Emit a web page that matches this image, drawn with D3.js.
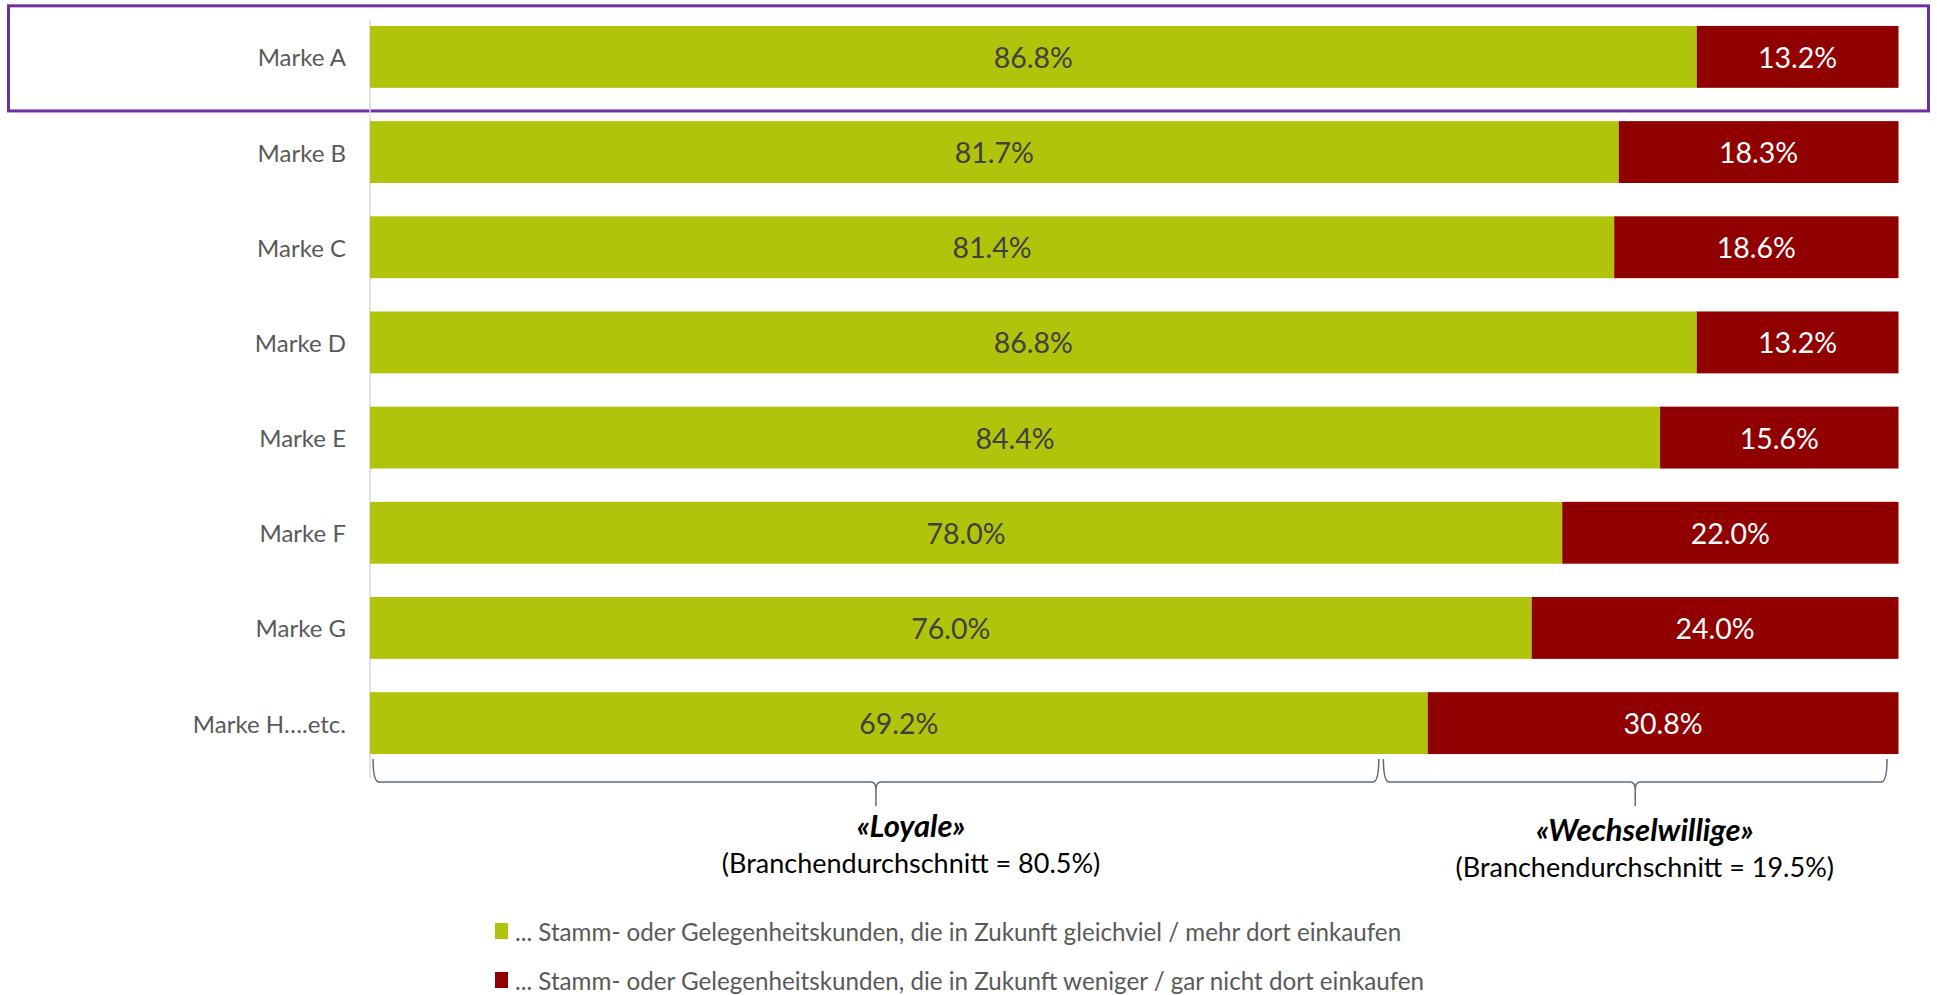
<!DOCTYPE html>
<html><head><meta charset="utf-8">
<script src="https://cdn.jsdelivr.net/npm/d3@7"></script>
<style>
html,body{margin:0;padding:0;background:#fff;}
svg{display:block;font-family:Lato, "Noto Sans", sans-serif;}
</style></head>
<body><svg id="c" width="1937" height="995"></svg>
<script>
const categories = ["Marke A","Marke B","Marke C","Marke D","Marke E","Marke F","Marke G","Marke H….etc."];
const loyal = [86.8, 81.7, 81.4, 86.8, 84.4, 78.0, 76.0, 69.2];
const switchers = [13.2, 18.3, 18.6, 13.2, 15.6, 22.0, 24.0, 30.8];
const groupTitles = ["«Loyale»", "«Wechselwillige»"];
const groupSubs = ["(Branchendurchschnitt = 80.5%)", "(Branchendurchschnitt = 19.5%)"];
const braceSpans = [[0.2, 66.0], [66.3, 99.25]];
const groupLabelPos = [35.4, 83.4];
const legendLabels = ["... Stamm- oder Gelegenheitskunden, die in Zukunft gleichviel / mehr dort einkaufen",
                      "... Stamm- oder Gelegenheitskunden, die in Zukunft weniger / gar nicht dort einkaufen"];
const highlighted = "Marke A";

const GREEN = "#b0c40b", RED = "#900000";
const svg = d3.select("#c");
const x = d3.scaleLinear().domain([0,100]).range([370, 1898.5]);
const y = d3.scaleBand().domain(categories).range([9.3, 770.7]).paddingInner(0.35).paddingOuter(0.175);

// highlight box
svg.append("rect").attr("x", 8.5).attr("y", y(highlighted) - 0.18*y.step() - 3)
  .attr("width", 1920).attr("height", y.bandwidth() + 0.36*y.step() + 9)
  .attr("fill","none").attr("stroke","#7030a0").attr("stroke-width",3);

// axis line
svg.append("line").attr("x1", x(0)).attr("x2", x(0)).attr("y1", 20).attr("y2", 778)
  .attr("stroke","#d9d9d9").attr("stroke-width",1.5);

const rows = svg.append("g").selectAll("g").data(categories).join("g");
rows.append("rect").attr("x", x(0)).attr("y", d => y(d))
  .attr("width", (d,i) => x(loyal[i]) - x(0)).attr("height", y.bandwidth()).attr("fill", GREEN);
rows.append("rect").attr("x", (d,i) => x(loyal[i])).attr("y", d => y(d))
  .attr("width", (d,i) => x(loyal[i] + switchers[i]) - x(loyal[i])).attr("height", y.bandwidth()).attr("fill", RED);
rows.append("text").attr("x", (d,i) => x(loyal[i]/2)).attr("y", d => y(d) + y.bandwidth()/2)
  .attr("text-anchor","middle").attr("dominant-baseline","central")
  .attr("font-size", 28.5).attr("fill","#404040").text((d,i) => loyal[i].toFixed(1) + "%");
rows.append("text").attr("x", (d,i) => x(loyal[i] + switchers[i]/2)).attr("y", d => y(d) + y.bandwidth()/2)
  .attr("text-anchor","middle").attr("dominant-baseline","central")
  .attr("font-size", 28.5).attr("fill","#ffffff").text((d,i) => switchers[i].toFixed(1) + "%");
rows.append("text").attr("x", 346).attr("y", d => y(d) + y.bandwidth()/2)
  .attr("text-anchor","end").attr("dominant-baseline","central")
  .attr("font-size", 24).attr("fill","#595959").text(d => d);

// braces
const yTop = 759, yMid = 782, yTip = 806;
braceSpans.forEach((s, i) => {
  const x0 = x(s[0]), x1 = x(s[1]), xc = (x0 + x1) / 2, r = 6;
  const p = d3.path();
  p.moveTo(x0, yTop);
  p.quadraticCurveTo(x0, yMid, x0 + r, yMid);
  p.lineTo(xc - 5, yMid);
  p.quadraticCurveTo(xc, yMid, xc, yMid + 8);
  p.lineTo(xc, yTip);
  p.moveTo(xc, yMid + 8);
  p.quadraticCurveTo(xc, yMid, xc + 5, yMid);
  p.lineTo(x1 - r, yMid);
  p.quadraticCurveTo(x1, yMid, x1, yTop);
  svg.append("path").attr("d", p.toString()).attr("fill","none")
    .attr("stroke","#5f6b7a").attr("stroke-width",1.5);
  const tx = x(groupLabelPos[i]);
  svg.append("text").attr("x", tx).attr("y", i===0 ? 837 : 841).attr("text-anchor","middle")
    .attr("font-size", 31).attr("font-weight","bold").attr("font-style","italic").attr("fill","#000")
    .text(groupTitles[i]);
  svg.append("text").attr("x", tx).attr("y", i===0 ? 873 : 877).attr("text-anchor","middle")
    .attr("font-size", 27).attr("fill","#000").text(groupSubs[i]);
});

// legend
const lg = svg.append("g").selectAll("g").data(legendLabels).join("g")
  .attr("transform", (d,i) => `translate(495, ${931 + i*49})`);
lg.append("rect").attr("x", 0).attr("y", -8).attr("width", 13).attr("height", 16)
  .attr("fill", (d,i) => i===0 ? GREEN : RED);
lg.append("text").attr("x", 20).attr("y", 0).attr("dominant-baseline","central")
  .attr("font-size", 24.2).attr("fill","#595959").text(d => d);
</script></body></html>
